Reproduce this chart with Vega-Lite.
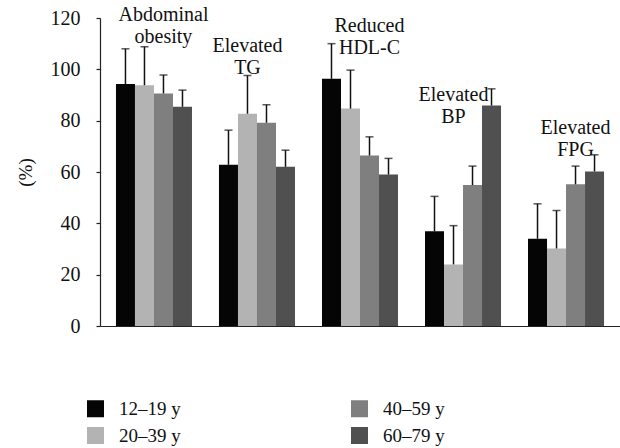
{
  "$schema": "https://vega.github.io/schema/vega-lite/v6.json",
  "width": 520,
  "height": 308,
  "autosize": {"type": "none"},
  "padding": {"left": 100, "top": 18, "right": 0, "bottom": 122},
  "background": "white",
  "config": {
    "view": {"stroke": null},
    "font": "Liberation Serif"
  },
  "datasets": {
    "bars": [
      {"group": "Abdominal obesity", "age": "12–19 y", "value": 94.3, "upper": 108.0},
      {"group": "Abdominal obesity", "age": "20–39 y", "value": 93.8, "upper": 108.8},
      {"group": "Abdominal obesity", "age": "40–59 y", "value": 90.6, "upper": 97.8},
      {"group": "Abdominal obesity", "age": "60–79 y", "value": 85.4, "upper": 91.9},
      {"group": "Elevated TG", "age": "12–19 y", "value": 62.8, "upper": 76.3},
      {"group": "Elevated TG", "age": "20–39 y", "value": 82.7, "upper": 97.6},
      {"group": "Elevated TG", "age": "40–59 y", "value": 79.2, "upper": 86.2},
      {"group": "Elevated TG", "age": "60–79 y", "value": 62.0, "upper": 68.5},
      {"group": "Reduced HDL-C", "age": "12–19 y", "value": 96.3, "upper": 110.0},
      {"group": "Reduced HDL-C", "age": "20–39 y", "value": 84.7, "upper": 99.7},
      {"group": "Reduced HDL-C", "age": "40–59 y", "value": 66.4, "upper": 73.7},
      {"group": "Reduced HDL-C", "age": "60–79 y", "value": 59.0, "upper": 65.3},
      {"group": "Elevated BP", "age": "12–19 y", "value": 36.9, "upper": 50.5},
      {"group": "Elevated BP", "age": "20–39 y", "value": 24.0, "upper": 39.1},
      {"group": "Elevated BP", "age": "40–59 y", "value": 54.9, "upper": 62.3},
      {"group": "Elevated BP", "age": "60–79 y", "value": 85.9, "upper": 92.4},
      {"group": "Elevated FPG", "age": "12–19 y", "value": 34.0, "upper": 47.6},
      {"group": "Elevated FPG", "age": "20–39 y", "value": 30.2, "upper": 45.0},
      {"group": "Elevated FPG", "age": "40–59 y", "value": 55.2, "upper": 62.3},
      {"group": "Elevated FPG", "age": "60–79 y", "value": 60.2, "upper": 66.7}
    ],
    "labels": [
      {"group": "Abdominal obesity", "anchor": "40–59 y", "text": "Abdominal\nobesity", "top": 117.2},
      {"group": "Elevated TG", "anchor": "20–39 y", "text": "Elevated\nTG", "top": 105.2},
      {"group": "Reduced HDL-C", "anchor": "40–59 y", "text": "Reduced\nHDL-C", "top": 113.0},
      {"group": "Elevated BP", "anchor": "20–39 y", "text": "Elevated\nBP", "top": 86.2},
      {"group": "Elevated FPG", "anchor": "40–59 y", "text": "Elevated\nFPG", "top": 73.3}
    ]
  },
  "encoding": {
    "x": {
      "field": "group",
      "type": "nominal",
      "sort": null,
      "scale": {
        "domain": ["Abdominal obesity", "Elevated TG", "Reduced HDL-C", "Elevated BP", "Elevated FPG"],
        "paddingInner": 0.262,
        "paddingOuter": 0.155
      },
      "axis": {
        "title": null,
        "labels": false,
        "ticks": false,
        "domainColor": "#222222",
        "domainWidth": 1.2
      }
    }
  },
  "layer": [
    {
      "data": {"name": "bars"},
      "mark": {"type": "bar"},
      "encoding": {
        "xOffset": {
          "field": "age",
          "type": "nominal",
          "scale": {"domain": ["12–19 y", "20–39 y", "40–59 y", "60–79 y"], "paddingInner": 0, "paddingOuter": 0}
        },
        "y": {
          "field": "value",
          "type": "quantitative",
          "scale": {"domain": [0, 120], "nice": false},
          "axis": {
            "title": "(%)",
            "values": [0, 20, 40, 60, 80, 100, 120],
            "grid": false,
            "domainColor": "#222222",
            "domainWidth": 1.2,
            "tickColor": "#222222",
            "tickSize": 4,
            "tickWidth": 1.2,
            "labelPadding": 16,
            "labelFont": "Liberation Serif",
            "labelFontSize": 20,
            "labelColor": "#111111",
            "titleFont": "Liberation Serif",
            "titleFontSize": 19,
            "titleFontWeight": "normal",
            "titleColor": "#111111",
            "titleX": -75,
            "titleY": 154,
            "titleAngle": -90,
            "titleAlign": "center",
            "titleBaseline": "middle"
          }
        },
        "color": {
          "field": "age",
          "type": "nominal",
          "scale": {
            "domain": ["12–19 y", "20–39 y", "40–59 y", "60–79 y"],
            "range": ["#050505", "#b3b3b3", "#7f7f7f", "#505050"]
          },
          "legend": {
            "title": null,
            "orient": "none",
            "legendX": -14,
            "legendY": 381,
            "columns": 2,
            "columnPadding": 169,
            "rowPadding": 7,
            "symbolType": "square",
            "symbolSize": 289,
            "symbolStrokeWidth": 0,
            "labelFont": "Liberation Serif",
            "labelFontSize": 19,
            "labelColor": "#111111",
            "labelOffset": 14
          }
        }
      }
    },
    {
      "data": {"name": "bars"},
      "mark": {"type": "rule", "color": "#111111", "strokeWidth": 1.5},
      "encoding": {
        "xOffset": {"field": "age", "type": "nominal"},
        "y": {"field": "value", "type": "quantitative"},
        "y2": {"field": "upper"}
      }
    },
    {
      "data": {"name": "bars"},
      "mark": {"type": "tick", "color": "#111111", "thickness": 1.5, "size": 8, "orient": "horizontal"},
      "encoding": {
        "xOffset": {"field": "age", "type": "nominal"},
        "y": {"field": "upper", "type": "quantitative"}
      }
    },
    {
      "data": {"name": "labels"},
      "mark": {
        "type": "text",
        "lineBreak": "\n",
        "baseline": "bottom",
        "align": "center",
        "font": "Liberation Serif",
        "fontSize": 20,
        "lineHeight": 22,
        "color": "#111111"
      },
      "encoding": {
        "xOffset": {"field": "anchor", "type": "nominal"},
        "y": {"field": "top", "type": "quantitative"},
        "text": {"field": "text"}
      }
    }
  ]
}
